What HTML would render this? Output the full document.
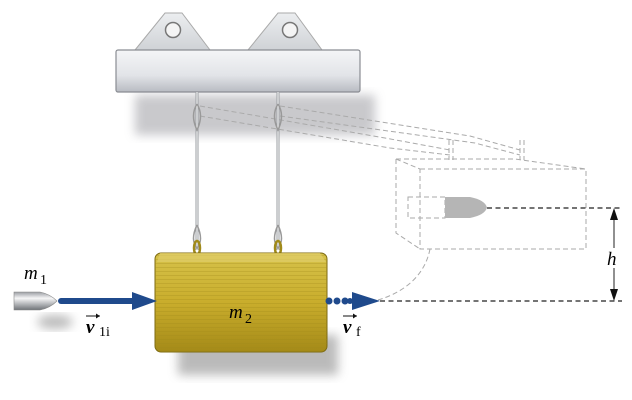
<!DOCTYPE html>
<html><head><style>
html,body{margin:0;padding:0;background:#fff;width:632px;height:400px;overflow:hidden}
svg{display:block}
text{font-family:"Liberation Serif",serif}
.i{font-style:italic}
.n{font-style:normal}
</style></head><body>
<svg width="632" height="400" viewBox="0 0 632 400" xmlns="http://www.w3.org/2000/svg">
<defs>
<filter id="bl" x="-20%" y="-20%" width="140%" height="140%"><feGaussianBlur stdDeviation="5"/></filter>
<linearGradient id="beam" x1="0" y1="0" x2="0" y2="1">
<stop offset="0" stop-color="#f4f5f7"/><stop offset="0.6" stop-color="#e2e4e8"/><stop offset="1" stop-color="#b8bbc2"/></linearGradient>
<linearGradient id="brk" x1="0" y1="0" x2="0" y2="1">
<stop offset="0" stop-color="#eceef0"/><stop offset="1" stop-color="#cfd2d6"/></linearGradient>
<linearGradient id="wood" x1="0" y1="0" x2="0" y2="1">
<stop offset="0" stop-color="#d6c24a"/><stop offset="0.5" stop-color="#c9ad2c"/><stop offset="1" stop-color="#a48a18"/></linearGradient>
<linearGradient id="bul" x1="0" y1="0" x2="0" y2="1">
<stop offset="0" stop-color="#9a9da2"/><stop offset="0.35" stop-color="#f6f6f7"/><stop offset="1" stop-color="#6f7378"/></linearGradient>
<pattern id="grain" width="8" height="4" patternUnits="userSpaceOnUse"><line x1="0" y1="3.5" x2="8" y2="3.5" stroke="#a08a18" stroke-width="0.6" opacity="0.5"/></pattern>
</defs>

<rect x="135" y="95" width="240" height="40" fill="#bcbcc0" filter="url(#bl)" opacity="0.8"/>
<rect x="178" y="335" width="160" height="40" fill="#aaa" filter="url(#bl)" opacity="0.8"/>
<ellipse cx="55" cy="322" rx="18" ry="7" fill="#bbb" filter="url(#bl)"/>

<path d="M135 50 L165 13 L182 13 L210 50 Z" fill="url(#brk)" stroke="#aaa" stroke-width="1"/>
<circle cx="173" cy="30" r="7.5" fill="#f4f4f4" stroke="#777" stroke-width="1.5"/>
<path d="M248 50 L278 13 L295 13 L322 50 Z" fill="url(#brk)" stroke="#aaa" stroke-width="1"/>
<circle cx="290" cy="30" r="7.5" fill="#f4f4f4" stroke="#777" stroke-width="1.5"/>
<rect x="116" y="50" width="244" height="42" rx="2" fill="url(#beam)" stroke="#8a8d93" stroke-width="1.2"/>

<g fill="none" stroke="#aaa" stroke-width="1" stroke-dasharray="5,3">
<path d="M200 106 L385 138 L450 150"/>
<path d="M200 116 L390 148 L450 155"/>
<path d="M280 106 L470 136 L520 150"/>
<path d="M280 116 L475 143 L520 155"/>
<path d="M449 140 V160 M453 140 V160 M520 140 V160 M524 140 V160"/>
<rect x="420" y="169" width="166" height="80"/>
<path d="M396 159 V233 L420 249 M396 159 L420 169 M396 159 H515 L586 169"/>
<rect x="408" y="197" width="37" height="21"/>
<path d="M430 249 C425 275 405 292 378 300"/>
</g>
<path d="M445 197 H470 Q485 200 487 207.5 Q485 215 470 218 H445 Z" fill="#b5b5b5"/>
<g stroke="#222" stroke-width="1.2" stroke-dasharray="5,3.5" fill="none">
<line x1="487" y1="208" x2="622" y2="208"/>
<line x1="380" y1="301" x2="622" y2="301"/>
</g>
<line x1="614" y1="216" x2="614" y2="293" stroke="#222" stroke-width="1"/>
<path d="M614 208 L610 220 L618 220 Z M614 301 L610 289 L618 289 Z" fill="#111"/>
<rect x="605" y="248" width="18" height="20" fill="#fff"/>
<text class="i" x="607" y="265" font-size="19">h</text>

<g stroke="#9a9da2" stroke-width="3" fill="none">
<line x1="197" y1="92" x2="197" y2="250"/><line x1="278" y1="92" x2="278" y2="250"/>
</g>
<g stroke="#eee" stroke-width="1.2" fill="none">
<line x1="197" y1="92" x2="197" y2="250"/><line x1="278" y1="92" x2="278" y2="250"/>
</g>
<g fill="none" stroke="#999" stroke-width="1.5">
<path d="M197 104 Q190 115 197 130 Q204 115 197 104"/>
<path d="M278 104 Q271 115 278 130 Q285 115 278 104"/>
<path d="M197 225 Q190 240 197 248 Q204 240 197 225"/>
<path d="M278 225 Q271 240 278 248 Q285 240 278 225"/>
</g>
<g fill="none" stroke="#a08a1a" stroke-width="2.5">
<ellipse cx="197" cy="248" rx="3" ry="7"/><ellipse cx="278" cy="248" rx="3" ry="7"/>
</g>

<rect x="155" y="253" width="172" height="99" rx="6" fill="url(#wood)" stroke="#7c6a12" stroke-width="1"/>
<rect x="155" y="253" width="172" height="99" rx="6" fill="url(#grain)"/>
<path d="M160 253 H320 L326 262 H157 Z" fill="#e0cd6a" opacity="0.7"/>
<text class="i" x="229" y="318" font-size="19">m</text><text class="n" x="245" y="323" font-size="14">2</text>

<path d="M14 292 H40 Q50 294 57 301 Q50 308 40 310 H14 Z" fill="url(#bul)" stroke="#888" stroke-width="0.6"/>
<text class="i" x="24" y="279" font-size="19">m</text><text class="n" x="40" y="284" font-size="14">1</text>

<line x1="61" y1="301" x2="134" y2="301" stroke="#1f4a8c" stroke-width="6" stroke-linecap="round"/>
<path d="M132 292 L157 301 L132 310 Z" fill="#1f4a8c"/>
<g fill="#1f4a8c"><circle cx="329" cy="301" r="3.5"/><circle cx="337" cy="301" r="3.5"/><circle cx="345" cy="301" r="3.5"/><circle cx="350" cy="301" r="3"/></g>
<path d="M352 292 L380 301 L352 310 Z" fill="#1f4a8c"/>

<text class="i" x="86" y="333" font-size="19" font-weight="bold">v</text>
<text class="n" x="99" y="336" font-size="14">1i</text>
<path d="M86 316 H100" stroke="#111" stroke-width="1"/><path d="M100 316 L96 313.5 L96 318.5 Z" fill="#111"/>
<text class="i" x="343" y="333" font-size="19" font-weight="bold">v</text>
<text class="n" x="356" y="336" font-size="14">f</text>
<path d="M343 316 H357" stroke="#111" stroke-width="1"/><path d="M357 316 L353 313.5 L353 318.5 Z" fill="#111"/>
</svg>
</body></html>
